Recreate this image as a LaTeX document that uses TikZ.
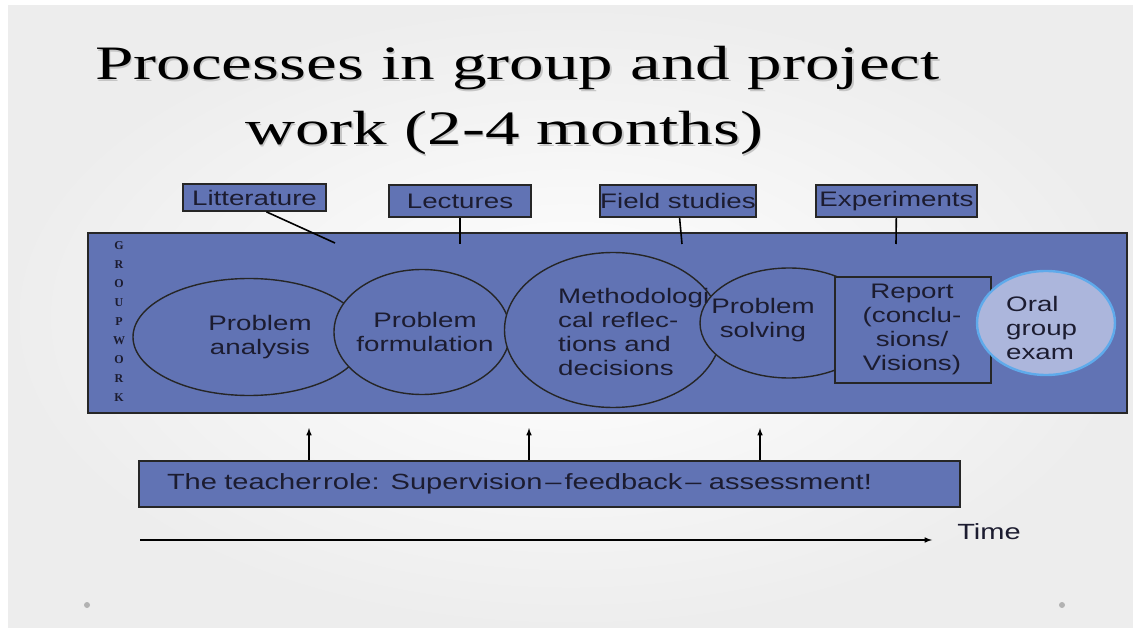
\documentclass[tikz,border=0pt]{standalone}
\usepackage{fontspec}
\usetikzlibrary{shapes.geometric,arrows}
\setmainfont{Liberation Sans}
\newfontfamily\titlefont[FakeStretch=1.44]{Liberation Serif}
\newfontfamily\boxfont[FakeStretch=1.32]{Liberation Sans}
\newfontfamily\gwfont{Liberation Serif}
\definecolor{slideblue}{RGB}{97,115,180}
\definecolor{examblue}{RGB}{172,182,220}
\definecolor{glow}{RGB}{95,170,235}
\definecolor{ink}{RGB}{28,28,48}
\tikzset{
  tag/.style={draw=black!85,fill=slideblue,line width=1.8pt,inner sep=0pt,
    font=\boxfont\fontsize{21}{24}\selectfont,text=ink},
  blob/.style={ellipse,draw=black!85,fill=slideblue,line width=1.4pt,inner sep=0pt},
  words/.style={font=\boxfont\fontsize{21}{24}\selectfont,text=ink,inner sep=0pt},
  heading/.style={font=\titlefont\fontsize{48}{56}\selectfont,inner sep=0pt,anchor=base west},
}

\begin{document}
\begin{tikzpicture}[x=1pt,y=-1pt]
\useasboundingbox (0,0) rectangle (1133,628);
\fill[white] (0,0) rectangle (1133,628);
\shade[inner color=white,outer color=gray!14] (8,6) rectangle (1133,628);
\fill[gray!60] (87,605) circle (3pt);
\fill[gray!60] (1062,605) circle (3pt);

% title
\node[heading,text=gray!45] (title1-sh) at (96.5,81.5) {Processes in group and project};
\node[heading,text=gray!45] (title2-sh) at (246.5,146.5) {work (2-4 months)};
\node[heading] (title1) at (95,80) {Processes in group and project};
\node[heading] (title2) at (245,145) {work (2-4 months)};

% group work frame
\node[draw=black!85,fill=slideblue,line width=2pt,minimum width=1039,minimum height=180] (gw) at (607.5,323) {};
\foreach \l [count=\i] in {G,R,O,U,P,W,O,R,K}
  \node[font=\gwfont\bfseries\fontsize{12}{12}\selectfont,text=ink,inner sep=0pt] (gw-\i) at (119,246+19*\i-19) {\l};

% input boxes
\node[tag,minimum width=143,minimum height=27] (lit) at (254.5,197.5) {Litterature};
\node[tag,minimum width=142,minimum height=32] (lec) at (460,201) {Lectures};
\node[tag,minimum width=154,minimum height=32] (field) at (678,201) {Field studies};
\node[tag,minimum width=161,minimum height=32] (exp) at (896.5,201) {Experiments};
\coordinate (lit-in) at (335,243);
\coordinate (lec-in) at (460,244);
\coordinate (field-in) at (682,244);
\coordinate (exp-in) at (896,244);
\draw[line width=1.6pt] ([xshift=12pt]lit.south) -- (lit-in);
\draw[line width=1.6pt] (lec) -- (lec-in);
\draw[line width=1.6pt] (field) -- (field-in);
\draw[line width=1.6pt] (exp) -- (exp-in);

% phases
\node[blob,minimum width=232,minimum height=117] (analysis) at (249,337) {};
\node[blob,minimum width=176,minimum height=125] (formul) at (422,332) {};
\node[blob,minimum width=217,minimum height=155] (method) at (613,330) {};
\node[blob,minimum width=178,minimum height=110] (solving) at (789,323) {};
\node[draw=black!85,fill=slideblue,line width=1.8pt,minimum width=156,minimum height=106] (report) at (913,330) {};
\node[ellipse,draw=glow,fill=examblue,line width=2.4pt,minimum width=138,minimum height=104] (exam) at (1046,323) {};

\node[words,align=center] (analysis-t) at (260,337) {Problem\\analysis};
\node[words,align=center] (formul-t) at (425,332) {Problem\\formulation};
\node[words,align=left,anchor=west] (method-t) at (558,332) {Methodologi\\cal reflec-\\tions and\\decisions};
\node[words,align=center] (solving-t) at (763,320) {Problem\\solving};
\node[words,align=center] (report-t) at (912,329) {Report\\(conclu-\\sions/\\Visions)};
\node[words,align=left,anchor=west] (exam-t) at (1006,328) {Oral\\group\\exam};

% teacher
\node[draw=black!85,fill=slideblue,line width=1.8pt,minimum height=46,inner xsep=28pt,inner ysep=0pt,
  text width=765pt,align=left,font=\boxfont\fontsize{22}{24}\selectfont,text=ink] (teacher) at (549.5,484)
  {The teacher\hspace{2pt}role: Supervision\hspace{3pt}–\hspace{3pt}feedback\hspace{3pt}– assessment!};
\coordinate (up1) at (309,428);
\coordinate (up2) at (529,428);
\coordinate (up3) at (760,428);
\draw[->,>=latex,line width=1.5pt] (up1 |- teacher.north) -- (up1);
\draw[->,>=latex,line width=1.5pt] (up2 |- teacher.north) -- (up2);
\draw[->,>=latex,line width=1.5pt] (up3 |- teacher.north) -- (up3);

% time
\node[words,font=\boxfont\fontsize{22}{24}\selectfont] (time) at (989,532) {Time};
\coordinate (t0) at (140,540);
\coordinate (t1) at (932,540);
\draw[->,>=latex,line width=1.5pt] (t0) -- (t1);
\end{tikzpicture}
\end{document}
